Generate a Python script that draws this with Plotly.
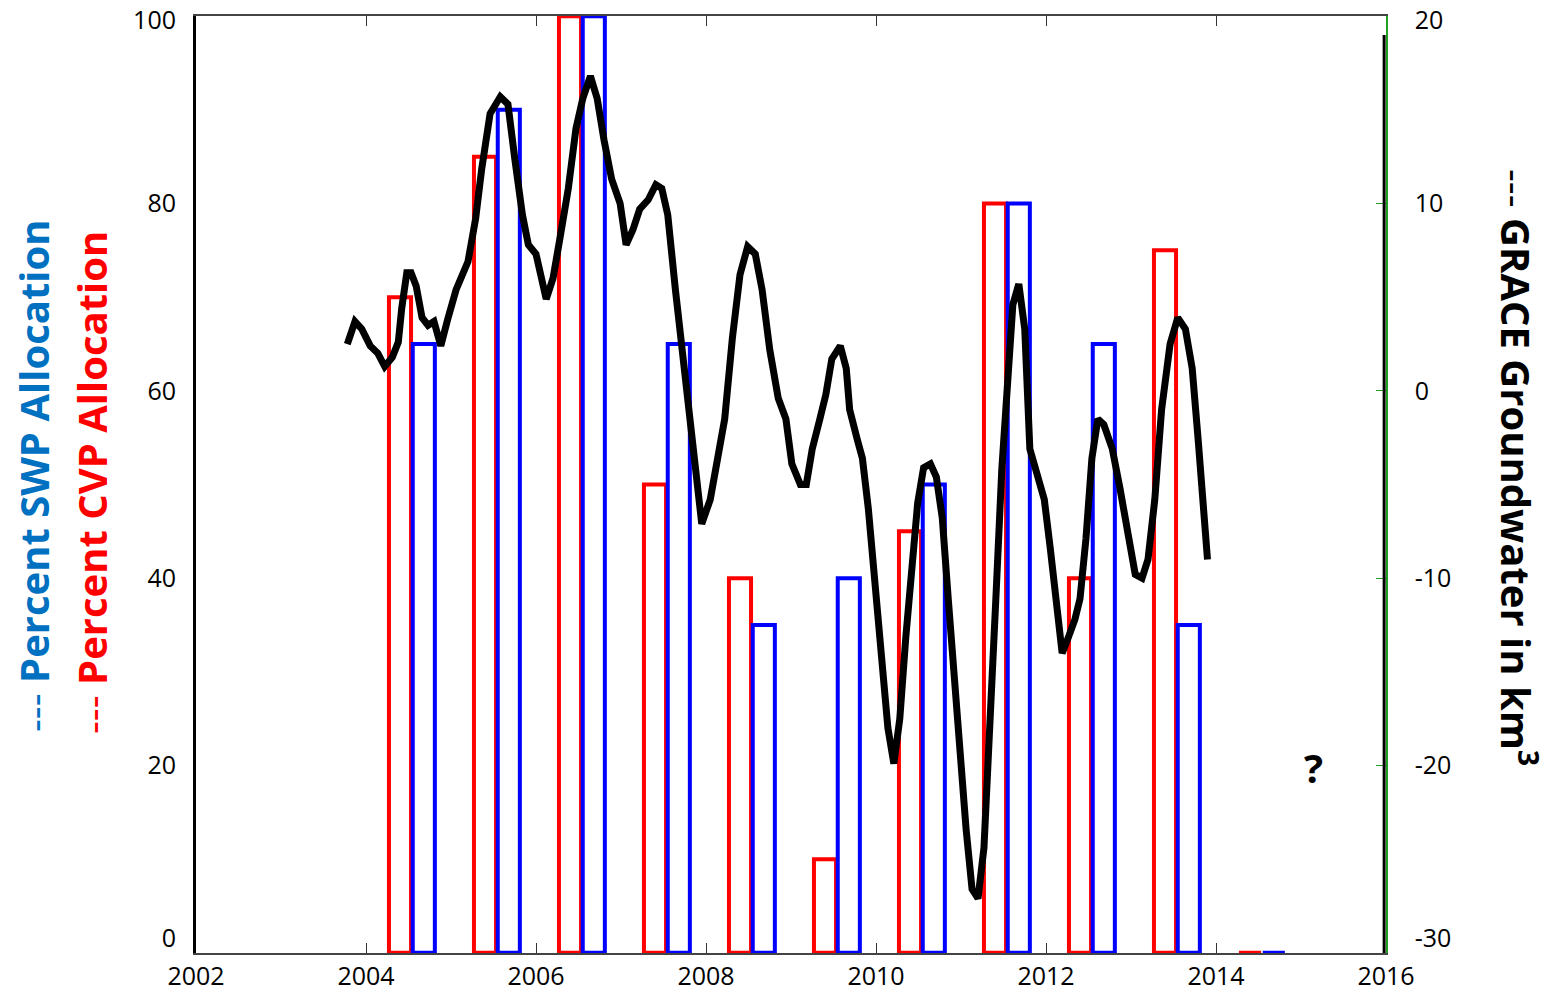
import plotly.graph_objects as go

# ---- data ----
years = [2004, 2005, 2006, 2007, 2008, 2009, 2010, 2011, 2012, 2013, 2014]
cvp_pct = [70, 85, 100, 50, 40, 10, 45, 80, 40, 75, 0]
swp_pct = [65, 90, 100, 65, 35, 40, 50, 80, 65, 35, 0]

grace_t = [2003.78, 2003.87, 2003.95, 2004.05, 2004.14, 2004.22, 2004.31, 2004.38, 2004.42,
           2004.48, 2004.53, 2004.59, 2004.66, 2004.73, 2004.8, 2004.88, 2004.96, 2005.06,
           2005.2, 2005.29, 2005.36, 2005.46, 2005.58, 2005.67, 2005.75, 2005.84, 2005.91,
           2006.0, 2006.12, 2006.2, 2006.28, 2006.38, 2006.47, 2006.55, 2006.64, 2006.72,
           2006.8, 2006.89, 2006.99, 2007.06, 2007.14, 2007.22, 2007.32, 2007.41, 2007.48,
           2007.55, 2007.64, 2007.72, 2007.81, 2007.89, 2007.95, 2008.05, 2008.14, 2008.22,
           2008.31, 2008.4, 2008.49, 2008.58, 2008.66, 2008.75, 2008.85, 2008.94, 2009.01,
           2009.11, 2009.18, 2009.25, 2009.34, 2009.41, 2009.48, 2009.58, 2009.65, 2009.69,
           2009.78, 2009.84, 2009.91, 2009.99, 2010.07, 2010.14, 2010.21, 2010.28, 2010.35,
           2010.42, 2010.49, 2010.56, 2010.64, 2010.71, 2010.78, 2010.85, 2010.92, 2010.99,
           2011.06, 2011.13, 2011.2, 2011.27, 2011.34, 2011.41, 2011.48, 2011.55, 2011.61,
           2011.68, 2011.75, 2011.81, 2011.88, 2011.98, 2012.05, 2012.12, 2012.19, 2012.26,
           2012.34, 2012.4, 2012.47, 2012.54, 2012.61, 2012.68, 2012.78, 2012.87, 2012.96,
           2013.05, 2013.13, 2013.2, 2013.28, 2013.36, 2013.46, 2013.55, 2013.64, 2013.72,
           2013.79, 2013.85, 2013.9]
grace_km3 = [2.5, 3.7, 3.3, 2.4, 2.0, 1.3, 1.8, 2.6, 4.4,
             6.3, 6.3, 5.6, 3.9, 3.5, 3.7, 2.4, 3.8, 5.4,
             6.9, 9.2, 11.8, 14.8, 15.7, 15.3, 12.4, 9.4, 7.8,
             7.3, 4.9, 6.0, 8.1, 10.8, 14.0, 15.6, 16.8, 15.6,
             13.4, 11.3, 10.0, 7.8, 8.6, 9.7, 10.2, 11.0, 10.8,
             9.4, 5.4, 2.2, -1.5, -4.2, -7.1, -5.8, -3.6, -1.5,
             2.8, 6.2, 7.7, 7.3, 5.4, 2.2, -0.4, -1.5, -3.9,
             -5.0, -5.0, -3.1, -1.5, -0.2, 1.7, 2.4, 1.2, -1.0,
             -2.6, -3.6, -6.3, -10.6, -14.3, -18.0, -19.9, -17.5, -13.2,
             -9.0, -6.0, -4.1, -3.9, -4.6, -6.8, -11.1, -15.4, -19.6,
             -23.4, -26.6, -27.1, -24.4, -18.6, -11.1, -4.2, 0.6, 4.6,
             5.7, 3.3, -3.1, -4.2, -5.8, -8.4, -11.6, -14.0, -13.2,
             -12.2, -11.1, -7.9, -3.6, -1.5, -1.8, -3.1, -5.2, -7.4,
             -9.8, -10.0, -9.0, -5.8, -1.0, 2.5, 3.9, 3.3, 1.2,
             -2.6, -5.8, -9.0]

x_ticks = [2002, 2004, 2006, 2008, 2010, 2012, 2014, 2016]
left_tick_text = ["0", "20", "40", "60", "80", "100"]
left_tick_pos = [1.6, 20, 40, 60, 80, 99.57]        # end labels nudged inward as in the original
right_tick_text = ["-30", "-20", "-10", "0", "10", "20"]
right_tick_pos = [-29.2, -20, -10, 0, 10, 19.79]
right_minor_ticks = [-20, -10, 0, 10]

BAR_W = 0.26
cvp_x = [y + 0.40 for y in years]
swp_x = [y + 0.68 for y in years]

XD = [196 / 1552, 1386 / 1552]
YD = [1 - 953 / 992, 1 - 16 / 992]
FONT = "Open Sans"
GREEN = "#22a022"

fig = go.Figure()
fig.add_trace(go.Bar(x=cvp_x, y=cvp_pct, width=BAR_W, marker=dict(color="rgba(0,0,0,0)",
                     line=dict(color="#ff0000", width=4)), showlegend=False))
fig.add_trace(go.Bar(x=swp_x, y=swp_pct, width=BAR_W, marker=dict(color="rgba(0,0,0,0)",
                     line=dict(color="#0000ff", width=4)), showlegend=False))
fig.add_trace(go.Scatter(x=grace_t, y=grace_km3, yaxis="y2", mode="lines",
                         line=dict(color="black", width=7), showlegend=False))

fig.update_layout(
    width=1552, height=992,
    margin=dict(l=0, r=0, t=0, b=0, autoexpand=False),
    paper_bgcolor="white", plot_bgcolor="white",
    barmode="overlay",
    font=dict(family=FONT, size=25, color="black"),
    xaxis=dict(domain=XD, range=[2002, 2016], tickvals=x_ticks, ticks="inside",
               ticklen=10, tickcolor="#333", showline=True, linecolor="#444",
               linewidth=1.5, mirror="ticks", showgrid=False, zeroline=False,
               automargin=False, ticklabeloverflow="allow",
               tickfont=dict(size=25, family=FONT)),
    yaxis=dict(domain=YD, range=[-0.02, 100.02], tickvals=left_tick_pos,
               ticktext=left_tick_text, ticks="",
               showline=True, linecolor="black", linewidth=3, showgrid=False,
               zeroline=False, automargin=False, ticklabelstandoff=12,
               ticklabeloverflow="allow", tickfont=dict(size=25, family=FONT)),
    yaxis2=dict(overlaying="y", side="right", range=[-30.01, 20.01], tickvals=right_tick_pos,
                ticktext=right_tick_text, ticks="",
                minor=dict(tickvals=right_minor_ticks, ticks="inside", ticklen=10,
                           tickcolor=GREEN, showgrid=False),
                showline=True, linecolor=GREEN, linewidth=1.5, showgrid=False, zeroline=False,
                automargin=False, ticklabelstandoff=22, ticklabeloverflow="allow",
                tickfont=dict(size=25, family=FONT)),
)

# thick black stroke along the right axis
fig.add_shape(type="line", xref="paper", yref="paper", x0=XD[1] - 0.0012, x1=XD[1] - 0.0012,
              y0=YD[0], y1=1 - 35 / 992, line=dict(color="black", width=3))

fig.add_annotation(xref="paper", yref="paper", x=33 / 1552, y=1 - 476 / 992, textangle=-90,
                   xanchor="center", yanchor="middle", showarrow=False,
                   text="--- <b>Percent SWP Allocation</b>",
                   font=dict(family=FONT, size=40, color="#0070c0"))
fig.add_annotation(xref="paper", yref="paper", x=92 / 1552, y=1 - 483 / 992, textangle=-90,
                   xanchor="center", yanchor="middle", showarrow=False,
                   text="--- <b>Percent CVP Allocation</b>",
                   font=dict(family=FONT, size=40, color="#ff0000"))
fig.add_annotation(xref="paper", yref="paper", x=1518 / 1552, y=1 - 467 / 992, textangle=90,
                   xanchor="center", yanchor="middle", showarrow=False,
                   text="--- <b>GRACE Groundwater in km<sup>3</sup></b>",
                   font=dict(family=FONT, size=40, color="black"))
fig.add_annotation(xref="paper", yref="paper", x=1313 / 1552, y=1 - 767 / 992,
                   xanchor="center", yanchor="middle", showarrow=False, text="<b>?</b>",
                   font=dict(family=FONT, size=40, color="black"))

fig.write_html("out.html", config={"displayModeBar": False},
               post_script="document.body.style.margin='0';document.body.style.overflow='hidden';")
